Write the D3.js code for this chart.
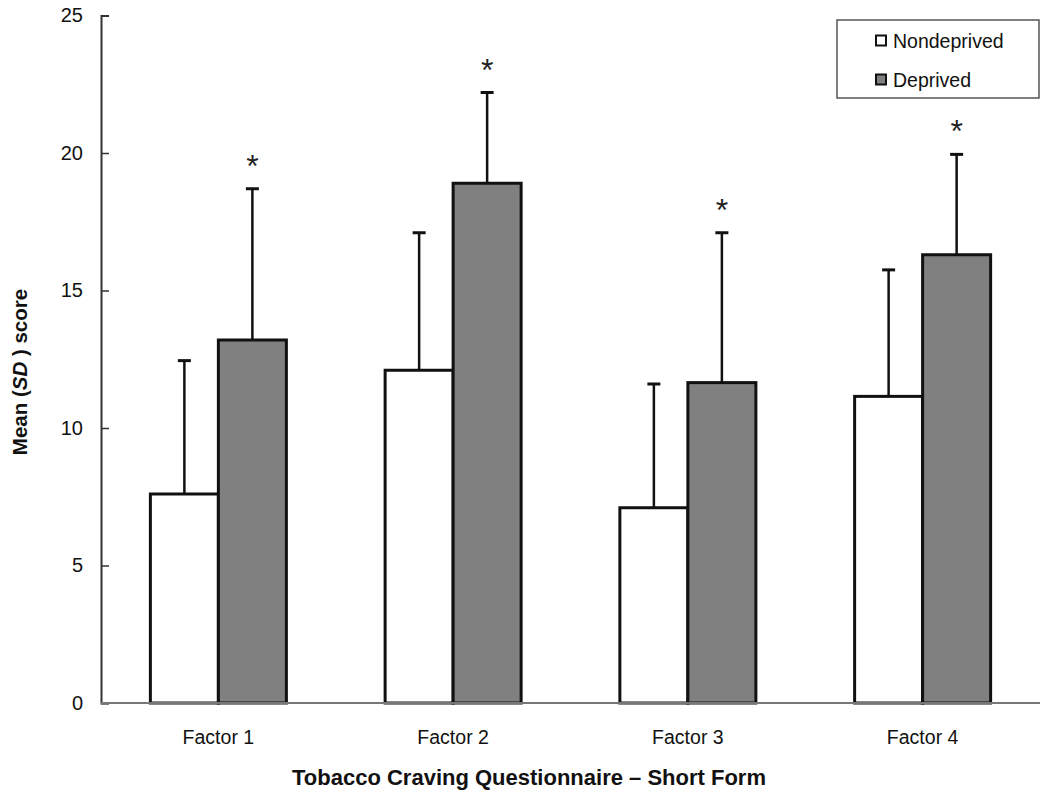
<!DOCTYPE html>
<html><head><meta charset="utf-8">
<script src="https://cdn.jsdelivr.net/npm/d3@7"></script>
<style>body{margin:0;background:#fff;} svg{font-family:"Liberation Sans",Arial,sans-serif;}</style>
</head><body>
<svg id="c" width="1050" height="801"></svg>
<script>
const categories = ["Factor 1","Factor 2","Factor 3","Factor 4"];
const seriesNames = ["Nondeprived","Deprived"];
const nondeprivedMean = [7.6, 12.1, 7.1, 11.15];
const nondeprivedSD   = [4.85, 5.0, 4.5, 4.6];
const deprivedMean    = [13.2, 18.9, 11.65, 16.3];
const deprivedSD      = [5.5, 3.3, 5.45, 3.65];
const significant     = [true, true, true, true];
const yTicks = [0,5,10,15,20,25];
const colors = ["#ffffff","#808080"];

const svg = d3.select("#c");
const m = {left:101, right:1040, top:15.5, bottom:703};
const x = d3.scaleBand().domain(categories).range([m.left, m.right]).paddingInner(0).paddingOuter(0);
const y = d3.scaleLinear().domain([0,25]).range([m.bottom, m.top]);
const barW = 68;

// y axis
const ya = svg.append("g").attr("transform",`translate(${m.left},0)`)
  .call(d3.axisLeft(y).tickValues(yTicks).tickSize(-8).tickPadding(18));
ya.select(".domain").attr("stroke","#333").attr("stroke-width",2);
ya.selectAll(".tick line").attr("stroke","#333").attr("stroke-width",1.5);
ya.selectAll(".tick text").attr("font-size",20).attr("fill","#111").attr("font-family","Liberation Sans, Arial, sans-serif");

const data = categories.map((c,i)=>({c, vals:[
  {s:0, m:nondeprivedMean[i], sd:nondeprivedSD[i]},
  {s:1, m:deprivedMean[i], sd:deprivedSD[i]}], sig:significant[i]}));

const g = svg.append("g");
data.forEach(d=>{
  const cx = x(d.c) + x.bandwidth()/2;
  d.vals.forEach(v=>{
    const x0 = cx - barW + v.s*barW;
    const xc = x0 + barW/2;
    g.append("line").attr("x1",xc).attr("x2",xc).attr("y1",y(v.m)).attr("y2",y(v.m+v.sd))
      .attr("stroke","#111").attr("stroke-width",2.5);
    g.append("line").attr("x1",xc-6.5).attr("x2",xc+6.5).attr("y1",y(v.m+v.sd)).attr("y2",y(v.m+v.sd))
      .attr("stroke","#111").attr("stroke-width",3);
    g.append("rect").attr("x",x0).attr("y",y(v.m)).attr("width",barW).attr("height",y(0)-y(v.m))
      .attr("fill",colors[v.s]).attr("stroke","#111").attr("stroke-width",3);
  });
  if(d.sig){
    const v = d.vals[1];
    g.append("text").attr("x",cx+barW/2).attr("y",y(v.m+v.sd)-12)
      .attr("text-anchor","middle").attr("font-size",32).attr("fill","#222").text("*");
  }
});

// x axis
svg.append("line").attr("x1",m.left).attr("x2",m.right).attr("y1",y(0)).attr("y2",y(0))
  .attr("stroke","#777").attr("stroke-width",2);
categories.forEach(c=>{
  svg.append("text").attr("x",x(c)+x.bandwidth()/2).attr("y",744).attr("text-anchor","middle")
    .attr("font-size",19.5).attr("fill","#111").text(c);
});

// axis titles
svg.append("text").attr("x",529).attr("y",785).attr("text-anchor","middle")
  .attr("font-size",22).attr("font-weight","bold").attr("fill","#111")
  .text("Tobacco Craving Questionnaire \u2013 Short Form");
const yt = svg.append("text").attr("transform","translate(27,372) rotate(-90)").attr("text-anchor","middle")
  .attr("font-size",20.5).attr("font-weight","bold").attr("fill","#111");
yt.append("tspan").text("Mean (");
yt.append("tspan").attr("font-style","italic").text("SD");
yt.append("tspan").text(" ) score");

// legend
const lg = svg.append("g");
lg.append("rect").attr("x",837).attr("y",20).attr("width",202).attr("height",78)
  .attr("fill","#fff").attr("stroke","#555").attr("stroke-width",1.5);
seriesNames.forEach((s,i)=>{
  const yy = 41 + i*39;
  lg.append("rect").attr("x",876).attr("y",yy-5.5).attr("width",10).attr("height",10)
    .attr("fill",colors[i]).attr("stroke","#111").attr("stroke-width",2);
  lg.append("text").attr("x",893).attr("y",yy+6.5).attr("font-size",19.5).attr("fill","#111").text(s);
});
</script>
</body></html>
